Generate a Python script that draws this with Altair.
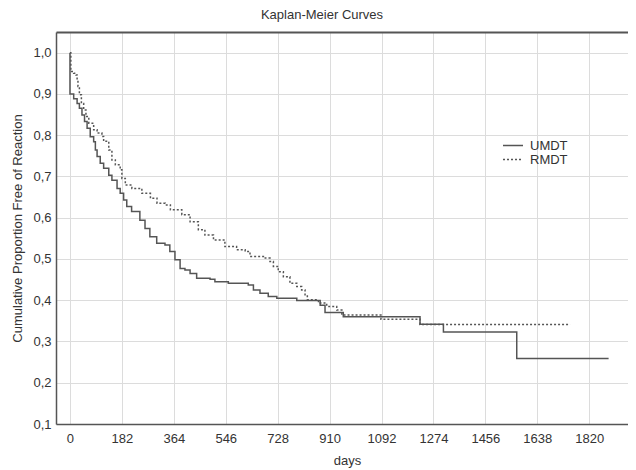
import altair as alt
import pandas as pd

# UMDT (solid) step curve
days_umdt = [0, 0, 13, 25, 33, 42, 51, 60, 71, 83, 89, 95, 106, 118, 136, 147, 165, 176,
             188, 199, 216, 245, 263, 280, 304, 333, 350, 368, 386, 403, 421, 444, 491,
             508, 555, 625, 643, 666, 695, 725, 795, 877, 894, 958, 1227, 1309, 1566, 1888]
surv_umdt = [1.0, 0.90, 0.888, 0.877, 0.865, 0.849, 0.833, 0.817, 0.796, 0.784, 0.764, 0.748,
             0.732, 0.720, 0.703, 0.691, 0.671, 0.659, 0.643, 0.627, 0.615, 0.594, 0.574,
             0.554, 0.538, 0.534, 0.518, 0.498, 0.477, 0.473, 0.465, 0.453, 0.451, 0.445,
             0.441, 0.437, 0.425, 0.417, 0.409, 0.405, 0.399, 0.388, 0.370, 0.360, 0.342,
             0.323, 0.259, 0.259]

# RMDT (dotted) step curve
days_rmdt = [0, 3, 13, 21, 25, 28, 33, 40, 48, 56, 66, 83, 95, 112, 118, 136, 147, 159, 176,
             182, 194, 217, 252, 282, 305, 334, 352, 392, 421, 450, 473, 503, 543, 584, 614,
             631, 678, 701, 713, 730, 748, 771, 795, 812, 824, 832, 871, 900, 935, 953, 1090,
             1227, 1753]
surv_rmdt = [1.0, 0.954, 0.950, 0.946, 0.934, 0.918, 0.898, 0.877, 0.861, 0.845, 0.829,
             0.813, 0.805, 0.797, 0.785, 0.764, 0.740, 0.728, 0.716, 0.695, 0.679, 0.671,
             0.659, 0.647, 0.635, 0.631, 0.619, 0.607, 0.590, 0.571, 0.558, 0.546, 0.530,
             0.522, 0.518, 0.506, 0.502, 0.494, 0.482, 0.469, 0.457, 0.441, 0.433, 0.425,
             0.413, 0.401, 0.393, 0.385, 0.376, 0.364, 0.354, 0.341, 0.341]

series_names = ["UMDT", "RMDT"]
x_ticks = [0, 182, 364, 546, 728, 910, 1092, 1274, 1456, 1638, 1820]
y_ticks = [0.1, 0.2, 0.3, 0.4, 0.5, 0.6, 0.7, 0.8, 0.9, 1.0]

rows = []
for i, (d, s) in enumerate(zip(days_umdt, surv_umdt)):
    rows.append({"series": "UMDT", "day": d, "surv": s, "idx": i})
for i, (d, s) in enumerate(zip(days_rmdt, surv_rmdt)):
    rows.append({"series": "RMDT", "day": d, "surv": s, "idx": i})
df = pd.DataFrame(rows)

FONT = "Liberation Sans"
TXT = "#333333"
W, H = 572, 392

xscale = alt.Scale(domain=[-49, 1956], nice=False, zero=False)
yscale = alt.Scale(domain=[0.1, 1.05], nice=False, zero=False)

base = alt.Chart(df).mark_line(interpolate="step-after", color="#555555", strokeWidth=1.5).encode(
    x=alt.X("day:Q", scale=xscale,
            axis=alt.Axis(values=x_ticks, format="d", title="days", grid=True, tickSize=0,
                          labelPadding=8, titleX=291, titleY=30, titleBaseline="top",
                          titleAnchor="start", titleAlign="center")),
    y=alt.Y("surv:Q", scale=yscale,
            axis=alt.Axis(values=y_ticks, title="Cumulative Proportion Free of Reaction",
                          grid=True, tickSize=0, labelPadding=5,
                          labelExpr="replace(format(datum.value, '.1f'), '.', ',')",
                          titleX=-32, titleY=196, titleAnchor="start", titleAlign="center")),
    strokeDash=alt.StrokeDash("series:N",
                              scale=alt.Scale(domain=series_names, range=[[1, 0], [2, 2]]),
                              legend=alt.Legend(title=None, orient="none", legendX=446,
                                                legendY=107, symbolType="stroke",
                                                symbolStrokeColor="#555555",
                                                symbolStrokeWidth=1.3, symbolSize=400,
                                                clipHeight=13, rowPadding=0,
                                                labelFontSize=13, labelColor=TXT,
                                                labelFont=FONT, labelOffset=6)),
    order="idx:Q",
)

top = alt.Chart(df).mark_line(opacity=0).encode(
    x=alt.X("day:Q", scale=xscale,
            axis=alt.Axis(orient="top", values=x_ticks, labels=False, ticks=False,
                          grid=False, title=None, domainWidth=2)),
    y=alt.Y("surv:Q", scale=yscale),
    detail="series:N",
)

chart = alt.layer(base, top).resolve_axis(x="independent").properties(
    width=W, height=H,
    autosize=alt.AutoSizeParams(type="none"),
    padding={"left": 48, "top": 24, "right": 0, "bottom": 46},
    title=alt.Title("Kaplan-Meier Curves", fontSize=13, fontWeight="normal", font=FONT,
                    color=TXT, dx=-20, offset=10),
).configure_axis(
    labelFont=FONT, labelFontSize=13, labelColor=TXT,
    titleFont=FONT, titleFontSize=13, titleColor=TXT, titleFontWeight="normal",
    gridColor="#dcdcdc", gridWidth=1,
    domainColor="#555555", domainWidth=1.5,
).configure_view(stroke=None)

chart.save("out.html", embed_options={"renderer": "svg", "actions": False})
